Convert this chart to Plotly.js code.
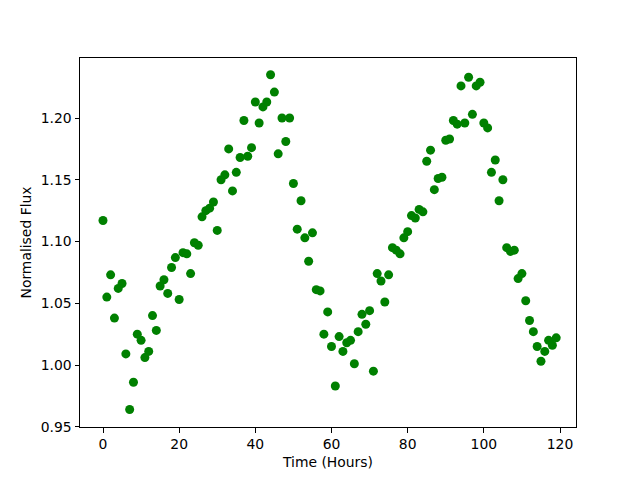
<!DOCTYPE html>
<html>
<head>
<meta charset="utf-8">
<script src="https://cdn.plot.ly/plotly-3.0.1.min.js"></script>
<style>html,body{margin:0;padding:0;background:#fff;}#chart{width:640px;height:480px;}</style>
</head>
<body>
<div id="chart"></div>
<script>
const hours = Array.from({length:120}, (_, i) => i);
const flux = [
1.117,1.055,1.073,1.038,1.062,1.066,1.009,0.964,0.986,1.025,
1.020,1.006,1.011,1.040,1.028,1.064,1.069,1.058,1.079,1.087,
1.053,1.091,1.090,1.074,1.099,1.097,1.120,1.125,1.127,1.132,
1.109,1.150,1.154,1.175,1.141,1.156,1.168,1.198,1.169,1.176,
1.213,1.196,1.209,1.213,1.235,1.221,1.171,1.200,1.181,1.200,
1.147,1.110,1.133,1.103,1.084,1.107,1.061,1.060,1.025,1.043,
1.015,0.983,1.023,1.011,1.018,1.020,1.001,1.027,1.041,1.033,
1.044,0.995,1.074,1.068,1.051,1.073,1.095,1.093,1.090,1.103,
1.108,1.121,1.119,1.126,1.124,1.165,1.174,1.142,1.151,1.152,
1.182,1.183,1.198,1.195,1.226,1.196,1.233,1.203,1.226,1.229,
1.196,1.192,1.156,1.166,1.133,1.150,1.095,1.092,1.093,1.070,
1.074,1.052,1.036,1.027,1.015,1.003,1.011,1.020,1.016,1.022
];
const xTicks = [0, 20, 40, 60, 80, 100, 120];
const yTicks = [0.95, 1.00, 1.05, 1.10, 1.15, 1.20];

const font = {family: 'DejaVu Sans', size: 13.9, color: '#000'};
const axisCommon = {
  showgrid: false, zeroline: false, showline: true, mirror: true,
  linecolor: '#000', linewidth: 1, ticks: 'outside', ticklen: 4.5,
  tickcolor: '#000', tickwidth: 1, tickfont: {family: 'DejaVu Sans', size: 13.9, color: '#000'}
};
Plotly.newPlot('chart', [{
  x: hours, y: flux, type: 'scatter', mode: 'markers',
  marker: {color: '#008000', size: 9}
}], {
  width: 640, height: 480,
  margin: {l: 80, r: 64, t: 58, b: 53},
  paper_bgcolor: '#fff', plot_bgcolor: '#fff',
  font: font, showlegend: false,
  xaxis: Object.assign({}, axisCommon, {
    range: [-6.04, 124.2], tickvals: xTicks, ticktext: xTicks.map(String),
    title: {text: 'Time (Hours)', font: font, standoff: 6}
  }),
  yaxis: Object.assign({}, axisCommon, {
    range: [0.9498, 1.2486], tickvals: yTicks, ticktext: yTicks.map(v => v.toFixed(2)),
    title: {text: 'Normalised Flux', font: font, standoff: 5}
  })
}, {displayModeBar: false, staticPlot: true});
</script>
</body>
</html>
